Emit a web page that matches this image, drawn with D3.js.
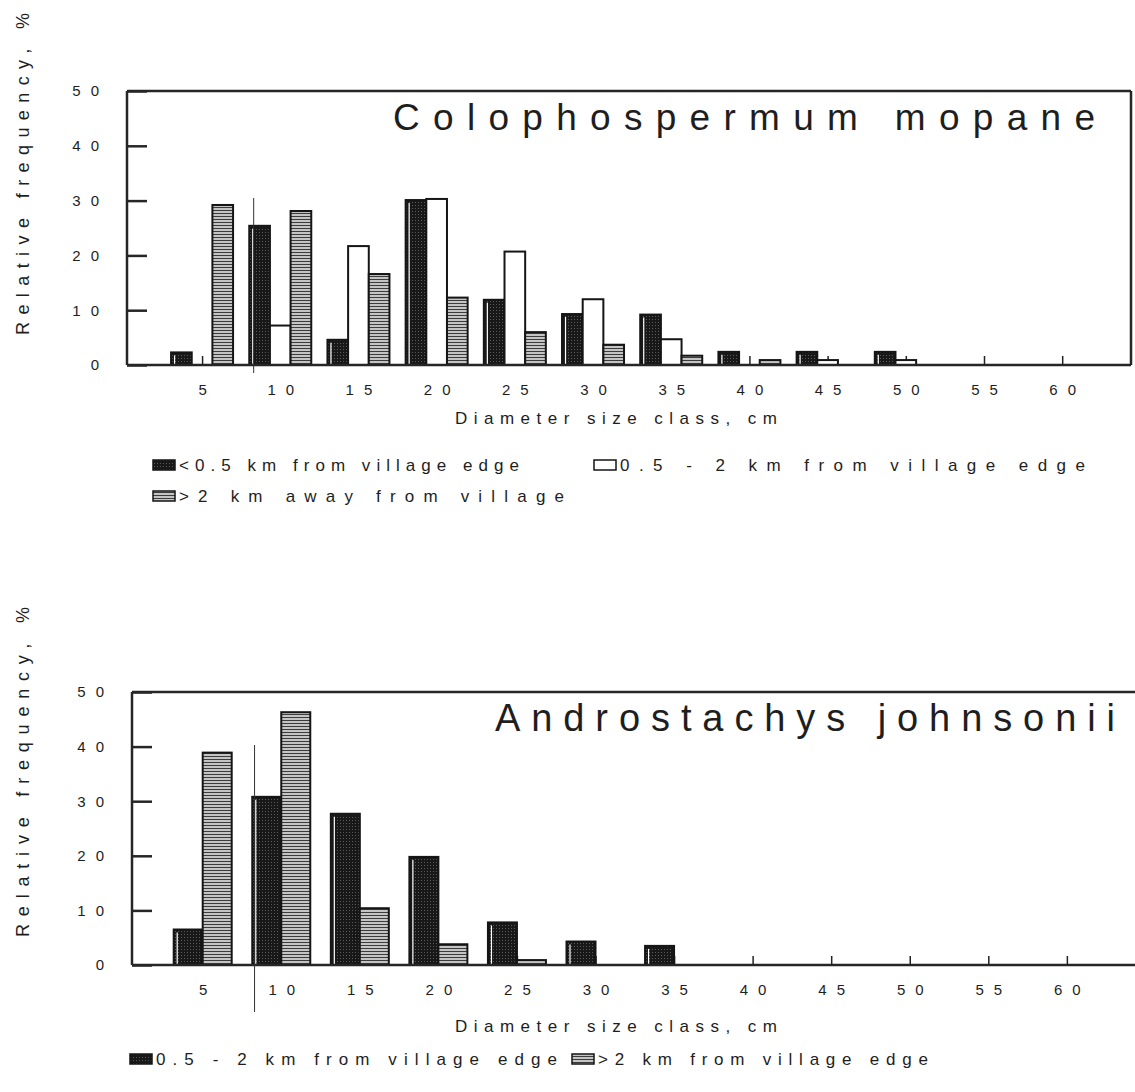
<!DOCTYPE html>
<html>
<head>
<meta charset="utf-8">
<script src="https://cdn.jsdelivr.net/npm/d3@7"></script>
<style>
body { margin: 0; background: #fff; }
text { font-family: "Liberation Sans", Arial, sans-serif; fill: #1e1e1e; }
</style>
</head>
<body>
<div id="chart"></div>
<script>
// diameter classes, cm
var classes = [5, 10, 15, 20, 25, 30, 35, 40, 45, 50, 55, 60];
var y_ticks = [0, 10, 20, 30, 40, 50];

// Colophospermum mopane, relative frequency %
var mopane_near = [2.3, 25.4, 4.6, 30.1, 11.9, 9.3, 9.2, 2.4, 2.4, 2.4, 0, 0];
var mopane_mid  = [0, 7.2, 21.7, 30.3, 20.7, 12.0, 4.7, 0, 0.9, 0.9, 0, 0];
var mopane_far  = [29.2, 28.1, 16.6, 12.3, 6.0, 3.7, 1.7, 0.9, 0, 0, 0, 0];

// Androstachys johnsonii, relative frequency %
var johnsonii_mid = [6.5, 30.8, 27.7, 19.8, 7.8, 4.3, 3.5, 0, 0, 0, 0, 0];
var johnsonii_far = [38.9, 46.3, 10.4, 3.8, 0.9, 0, 0, 0, 0, 0, 0, 0];

var mopane_legend = ["<0.5 km from village edge", "0.5 - 2 km from village edge", ">2 km away from village"];
var johnsonii_legend = ["0.5 - 2 km from village edge", ">2 km from village edge"];

var chart_width = 1135;
var chart_height = 1092;

var svg = d3.select("#chart")
    .append("svg")
    .attr("width", chart_width)
    .attr("height", chart_height);

// fill patterns: dark stipple and horizontal hatch
var defs = svg.append("defs");
var dark = defs.append("pattern").attr("id", "dark")
    .attr("patternUnits", "userSpaceOnUse").attr("width", 3).attr("height", 3);
dark.append("rect").attr("width", 3).attr("height", 3).attr("fill", "#181818");
dark.append("rect").attr("x", 1).attr("y", 1).attr("width", 1).attr("height", 1).attr("fill", "#5a5a5a");

var hatch = defs.append("pattern").attr("id", "hatch")
    .attr("patternUnits", "userSpaceOnUse").attr("width", 4).attr("height", 3);
hatch.append("rect").attr("width", 4).attr("height", 3).attr("fill", "#c4c4c4");
hatch.append("rect").attr("width", 4).attr("height", 1).attr("fill", "#3c3c3c");

var fills = {near: "url(#dark)", mid: "#fff", far: "url(#hatch)"};

var panels = [
    {
        title: "Colophospermum mopane", title_x: 393, title_len: 702, title_size: 37,
        series: [mopane_near, mopane_mid, mopane_far],
        kinds: ["near", "mid", "far"],
        legend: mopane_legend,
        legend_pos: [[153, 471, 340], [594, 471, 465], [153, 502, 385]],
        x_domain: [0.2, 64.4], left: 127, right: 1131, top: 91, bottom: 365,
        right_line: true, group_w: 62,
        ylab_mid: 174, ylab_len: 322, xlab_y: 424, stray: [198, 373]
    },
    {
        title: "Androstachys johnsonii", title_x: 495, title_len: 620, title_size: 38,
        series: [johnsonii_mid, johnsonii_far],
        kinds: ["near", "far"],
        legend: johnsonii_legend,
        legend_pos: [[130, 1065, 401], [572, 1065, 330]],
        x_domain: [0.5, 64.4], left: 132, right: 1136, top: 692, bottom: 965,
        right_line: false, group_w: 58,
        ylab_mid: 772, ylab_len: 330, xlab_y: 1032, stray: [745, 1012]
    }
];

panels.forEach(draw_panel);

function draw_panel(p) {
    var x_scale = d3.scaleLinear().domain(p.x_domain).range([p.left, p.right]);
    var y_scale = d3.scaleLinear().domain([0, 50]).range([p.bottom, p.top]);
    var g = svg.append("g");

    // x ticks sit under the bars
    var xa = g.append("g")
        .attr("transform", "translate(0," + p.bottom + ")")
        .call(d3.axisBottom(x_scale).tickValues(classes).tickSizeInner(-9).tickSizeOuter(0).tickPadding(19));
    xa.select(".domain").remove();
    xa.selectAll("line").attr("stroke", "#222").attr("stroke-width", 1.5);
    xa.selectAll("text")
        .attr("font-size", 15)
        .attr("letter-spacing", 10)
        .attr("dx", 5)
        .attr("fill", "#1e1e1e")
        .attr("font-family", "Liberation Sans");

    // bars
    var n = p.series.length;
    var bw = p.group_w / n;
    p.series.forEach(function(vals, k) {
        var rows = classes.map(function(c, i) { return {c: c, v: vals[i]}; })
            .filter(function(d) { return d.v > 0; });
        g.selectAll(".bar" + k)
            .data(rows)
            .enter()
            .append("rect")
            .attr("x", function(d) { return x_scale(d.c) - p.group_w / 2 + k * bw; })
            .attr("y", function(d) { return y_scale(d.v); })
            .attr("width", bw)
            .attr("height", function(d) { return y_scale(0) - y_scale(d.v); })
            .attr("fill", fills[p.kinds[k]])
            .attr("stroke", "#151515")
            .attr("stroke-width", 2);
        if (p.kinds[k] == "near") {
            g.selectAll(".shine" + k)
                .data(rows.filter(function(d) { return y_scale(0) - y_scale(d.v) > 6; }))
                .enter()
                .append("line")
                .attr("x1", function(d) { return x_scale(d.c) - p.group_w / 2 + k * bw + 3.5; })
                .attr("x2", function(d) { return x_scale(d.c) - p.group_w / 2 + k * bw + 3.5; })
                .attr("y1", function(d) { return y_scale(d.v) + 3; })
                .attr("y2", y_scale(0) - 1)
                .attr("stroke", "#fff")
                .attr("stroke-width", 1.2);
        }
    });

    // frame
    var frame = g.append("g").attr("stroke", "#262626").attr("stroke-width", 2.5).attr("fill", "none");
    frame.append("line").attr("x1", p.left).attr("x2", p.left).attr("y1", y_scale(50)).attr("y2", y_scale(0));
    frame.append("line").attr("x1", p.left).attr("x2", p.right).attr("y1", y_scale(50)).attr("y2", y_scale(50));
    frame.append("line").attr("x1", p.left).attr("x2", p.right).attr("y1", y_scale(0)).attr("y2", y_scale(0));
    if (p.right_line) {
        frame.append("line").attr("x1", p.right).attr("x2", p.right).attr("y1", y_scale(50)).attr("y2", y_scale(0));
    }

    // y axis, ticks pointing inward
    var ya = g.append("g")
        .attr("transform", "translate(" + p.left + ",0)")
        .call(d3.axisLeft(y_scale).tickValues(y_ticks).tickSizeInner(-20).tickSizeOuter(0).tickPadding(28));
    ya.select(".domain").remove();
    ya.selectAll("line").attr("stroke", "#262626").attr("stroke-width", 2.5);
    ya.selectAll("text")
        .attr("font-size", 15)
        .attr("letter-spacing", 10)
        .attr("dx", 10)
        .attr("fill", "#1e1e1e")
        .attr("font-family", "Liberation Sans");

    // stray scan line
    g.append("line")
        .attr("x1", x_scale(8.3)).attr("x2", x_scale(8.3))
        .attr("y1", p.stray[0]).attr("y2", p.stray[1])
        .attr("stroke", "#333").attr("stroke-width", 1);

    // species title
    g.append("text")
        .attr("x", p.title_x)
        .attr("y", y_scale(50) + 39)
        .attr("font-size", p.title_size)
        .attr("textLength", p.title_len)
        .attr("lengthAdjust", "spacing")
        .text(p.title);

    // axis titles
    g.append("text")
        .attr("x", 455)
        .attr("y", p.xlab_y)
        .attr("font-size", 17)
        .attr("textLength", 322)
        .attr("lengthAdjust", "spacing")
        .text("Diameter size class, cm");

    g.append("text")
        .attr("transform", "translate(29," + p.ylab_mid + ") rotate(-90)")
        .attr("text-anchor", "middle")
        .attr("font-size", 18)
        .attr("textLength", p.ylab_len)
        .attr("lengthAdjust", "spacing")
        .text("Relative frequency, %");

    // legend
    p.legend.forEach(function(label, k) {
        var pos = p.legend_pos[k];
        g.append("rect")
            .attr("x", pos[0]).attr("y", pos[1] - 11)
            .attr("width", 22).attr("height", 10)
            .attr("fill", fills[p.kinds[k]])
            .attr("stroke", "#151515").attr("stroke-width", 1.5);
        g.append("text")
            .attr("x", pos[0] + 26)
            .attr("y", pos[1])
            .attr("font-size", 17)
            .attr("textLength", pos[2])
            .attr("lengthAdjust", "spacing")
            .text(label);
    });
}
</script>
</body>
</html>
